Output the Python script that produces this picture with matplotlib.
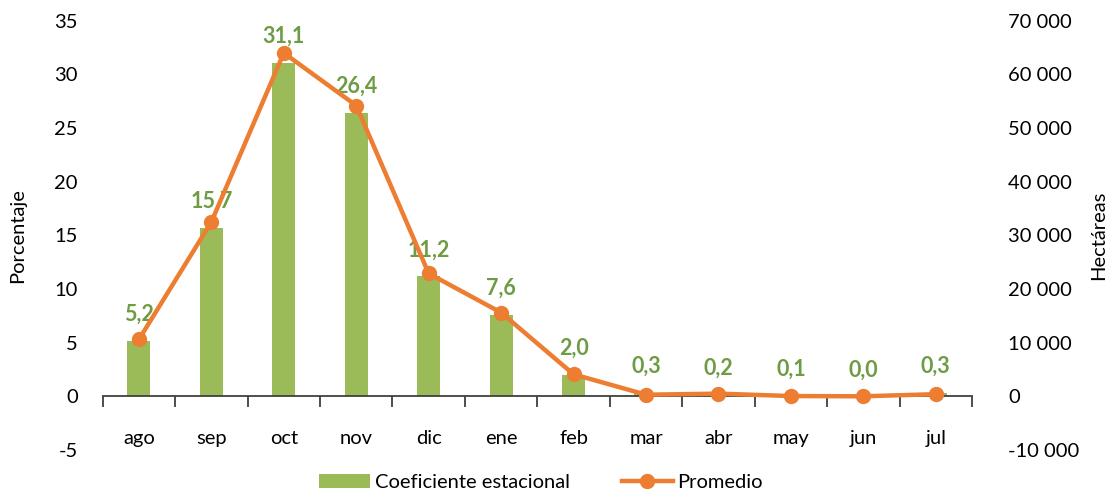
"""
Coeficiente estacional (barras) y promedio de hectáreas (línea).
"""

import matplotlib
matplotlib.use("Agg")
import matplotlib.pyplot as plt
from matplotlib.ticker import FuncFormatter

meses = ["ago", "sep", "oct", "nov", "dic", "ene", "feb", "mar", "abr", "may", "jun", "jul"]
coef_estacional = [5.2, 15.7, 31.1, 26.4, 11.2, 7.6, 2.0, 0.3, 0.2, 0.1, 0.0, 0.3]
promedio_ha = [10600, 32500, 64000, 54200, 22900, 15600, 4100, 300, 500, 50, 0, 400]

verde = "#9BBB59"
verde_txt = "#6E9C45"
naranja = "#ED7D31"
gris = "#404040"

plt.rcParams["font.family"] = ["Lato", "DejaVu Sans"]
plt.rcParams["font.size"] = 14
plt.rcParams["axes.unicode_minus"] = False

fig = plt.figure(figsize=(11.16, 4.95), dpi=100)
ax = fig.add_axes([0.092, 0.091, 0.779, 0.867])
ax2 = ax.twinx()

x = list(range(len(meses)))
barras = ax.bar(x, coef_estacional, width=0.32, color=verde, label="Coeficiente estacional", zorder=2)
linea, = ax2.plot(x, promedio_ha, color=naranja, lw=3.2, marker="o", ms=10,
                  label="Promedio", zorder=3)

ax.set_ylim(-5, 35)
ax.set_yticks(range(-5, 40, 5))
ax2.set_ylim(-10000, 70000)
ax2.set_yticks(range(-10000, 80000, 10000))
ax2.yaxis.set_major_formatter(FuncFormatter(lambda v, p: f"{int(v):,}".replace(",", " ")))
ax.set_xlim(-0.5, len(meses) - 0.5)

# line on top of the bars
ax2.set_zorder(ax.get_zorder() + 1)
ax2.patch.set_visible(False)

for a in (ax, ax2):
    for s in ("top", "left", "right"):
        a.spines[s].set_visible(False)
ax2.spines["bottom"].set_visible(False)
ax.spines["bottom"].set_position(("data", 0))
ax.spines["bottom"].set_color(gris)
ax.spines["bottom"].set_linewidth(1.3)

ax.set_xticks(x)
ax.set_xticklabels(meses)
ax.tick_params(axis="x", which="major", length=0, pad=24, labelsize=14.5)
ax.set_xticks([i - 0.5 for i in range(len(meses) + 1)], minor=True)
ax.tick_params(axis="x", which="minor", length=8, width=1.3, color=gris, direction="out")
ax.tick_params(axis="y", length=0, pad=18, labelsize=14.5)
ax2.tick_params(axis="y", length=0, pad=26, labelsize=14.5)

ax.set_ylabel("Porcentaje", fontsize=14.5, labelpad=20)
ax2.set_ylabel("Hectáreas", fontsize=14.5, rotation=90, labelpad=8)

for xi, v in zip(x, coef_estacional):
    ax.annotate(f"{v:.1f}".replace(".", ","), (xi, v), xytext=(0, 19),
                textcoords="offset points", ha="center", va="center",
                color=verde_txt, fontsize=15.5, fontweight="bold", zorder=5)

fig.legend(handles=[barras, linea], labels=["Coeficiente estacional", "Promedio"],
           loc="center", bbox_to_anchor=(0.485, 0.025), ncol=2, frameon=False,
           fontsize=14.5, handlelength=2.5, columnspacing=2.6, handletextpad=0.25)

fig.savefig("out.png", dpi=100)
